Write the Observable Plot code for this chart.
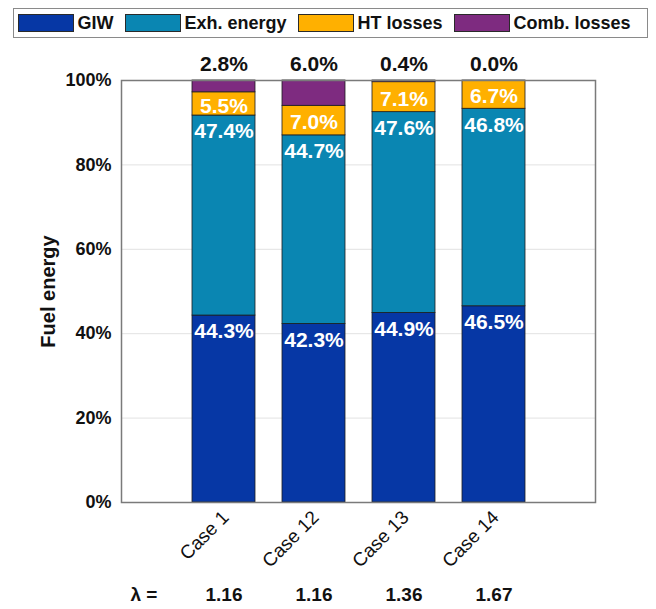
<!DOCTYPE html>
<html>
<head>
<meta charset="utf-8">
<script src="https://cdn.jsdelivr.net/npm/d3@7"></script>
<script src="https://cdn.jsdelivr.net/npm/@observablehq/plot@0.6"></script>
<style>
  html, body { margin: 0; padding: 0; background: #fff; }
  body { width: 656px; height: 609px; overflow: hidden; font-family: "Liberation Sans", Arial, sans-serif; }
  #legend { height: 45px; position: relative; }
  #legend .box {
    position: absolute; left: 13px; top: 8px; width: 635px; height: 30px;
    box-sizing: border-box; border: 1.5px solid #8a8a8a; background: #fff;
    display: flex; align-items: center; padding-left: 3.5px;
  }
  #legend .item { display: flex; align-items: center; margin-right: 11px; }
  #legend .sw { width: 56px; height: 18px; box-sizing: border-box; border: 1px solid #2a2a2a; }
  #legend .lab { margin-left: 4px; font-size: 18px; font-weight: bold; color: #111; white-space: nowrap; }
</style>
</head>
<body>
<div id="legend"><div class="box"></div></div>
<div id="chart"></div>
<script>
const cases = ["Case 1", "Case 12", "Case 13", "Case 14"];
const lambdas = ["1.16", "1.16", "1.36", "1.67"];
const series = ["GIW", "Exh. energy", "HT losses", "Comb. losses"];
const colors = ["#0637a5", "#0a86b2", "#ffb000", "#7e2b80"];
const giw = [44.3, 42.3, 44.9, 46.5];
const exh = [47.4, 44.7, 47.6, 46.8];
const ht = [5.5, 7.0, 7.1, 6.7];
const comb = [2.8, 6.0, 0.4, 0.0];
const yTicks = [0, 20, 40, 60, 80, 100];

const values = [giw, exh, ht, comb];
const rows = [];
cases.forEach((c, i) => {
  let acc = 0;
  values.forEach((arr, s) => {
    const v = arr[i];
    rows.push({case: c, series: series[s], s, value: v, y1: acc, y2: acc + v, mid: acc + v / 2});
    acc += v;
  });
});
const fmt = d => d.value.toFixed(1) + "%";

// legend
const box = document.querySelector("#legend .box");
series.forEach((s, i) => {
  const it = document.createElement("div");
  it.className = "item";
  const sw = document.createElement("div");
  sw.className = "sw";
  sw.style.background = colors[i];
  const lab = document.createElement("span");
  lab.className = "lab";
  lab.textContent = s;
  it.appendChild(sw); it.appendChild(lab);
  box.appendChild(it);
});

const font = "'Liberation Sans', Arial, sans-serif";
const chart = Plot.plot({
  width: 656,
  height: 564,
  marginTop: 35,
  marginBottom: 107,
  marginLeft: 121,
  marginRight: 61,
  style: {fontFamily: font, background: "white", overflow: "visible"},
  x: {domain: cases, paddingInner: 0.3, paddingOuter: 0.78, axis: null},
  y: {domain: [0, 100], axis: null},
  color: {domain: series, range: colors},
  marks: [
    Plot.gridY({ticks: [20, 40, 60, 80], stroke: "#e2e2e2", strokeOpacity: 1, strokeWidth: 1}),
    Plot.barY(rows, {x: "case", y1: "y1", y2: "y2", fill: "series", stroke: "#1c1c1c", strokeWidth: 0.8}),
    Plot.frame({stroke: "#7a7a7a", strokeWidth: 1.5}),
    Plot.axisY({ticks: yTicks, tickSize: 0, tickPadding: 10, tickFormat: d => d + "%", fontSize: 18, fontWeight: "bold", fill: "#111", label: null}),
    Plot.text(["Fuel energy"], {frameAnchor: "left", textAnchor: "middle", rotate: -90, dx: -73, fontSize: 20, fontWeight: "bold", fill: "#111"}),
    // labels inside bars
    Plot.text(rows.filter(d => d.s < 2), {x: "case", y: "y2", text: fmt, dy: 16, fill: "white", fontSize: 21, fontWeight: "bold"}),
    Plot.text(rows.filter(d => d.s === 2), {x: "case", y: "mid", text: fmt, dy: 2, fill: "white", fontSize: 21, fontWeight: "bold"}),
    Plot.text(rows.filter(d => d.s === 3), {x: "case", y: "y2", text: fmt, dy: -16, fill: "#111", fontSize: 21, fontWeight: "bold"}),
    // rotated category labels
    Plot.text(cases, {x: d => d, text: d => d, frameAnchor: "bottom", rotate: -45, textAnchor: "end", dx: 6, dy: 16, fontSize: 19, fill: "#111"}),
    // lambda row
    Plot.text(["λ ="], {frameAnchor: "bottom-left", textAnchor: "start", dx: 9, dy: 98, fontSize: 19, fontWeight: "bold", fill: "#111"}),
    Plot.text(lambdas, {x: (d, i) => cases[i], text: d => d, frameAnchor: "bottom", dy: 98, fontSize: 19, fontWeight: "bold", fill: "#111"})
  ]
});
document.getElementById("chart").appendChild(chart);
</script>
</body>
</html>
